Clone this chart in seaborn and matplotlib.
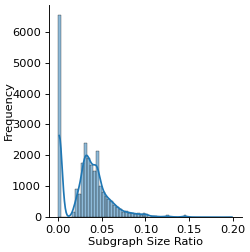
import numpy as np
import matplotlib
matplotlib.use("Agg")
import matplotlib.pyplot as plt
import seaborn as sns

# histogram counts, 60 bins over [0, 0.2]
bin_lo = 0.0
bin_hi = 0.2
n_bins = 60
counts = [
    6550, 0, 0, 0, 0, 170, 900, 740, 1740, 2390,
    1900, 1680, 1500, 2140, 1000, 820, 690, 580, 530, 390,
    320, 260, 160, 190, 130, 150, 90, 130, 60, 130,
    100, 20, 30, 40, 10, 20, 10, 60, 10, 10,
    10, 0, 10, 60, 5, 5, 0, 5, 0, 0,
    0, 0, 5, 0, 0, 0, 0, 0, 0, 5,
]

width = (bin_hi - bin_lo) / n_bins
centers = bin_lo + (np.arange(n_bins) + 0.5) * width
ratios = np.repeat(centers, counts)

dpi = 82
fig, ax = plt.subplots(figsize=(250 / dpi, 252 / dpi), dpi=dpi)
sns.histplot(x=ratios, bins=n_bins, binrange=(bin_lo, bin_hi), kde=True, ax=ax)
sns.despine(ax=ax)
ax.set_xlabel("Subgraph Size Ratio", labelpad=1.5)
ax.set_ylabel("Frequency", labelpad=-1.5)
ax.set_xticks([0.0, 0.05, 0.10, 0.15, 0.20])
fig.subplots_adjust(left=0.196, right=0.968, bottom=0.138, top=0.982)
fig.savefig("out.png", dpi=dpi)
